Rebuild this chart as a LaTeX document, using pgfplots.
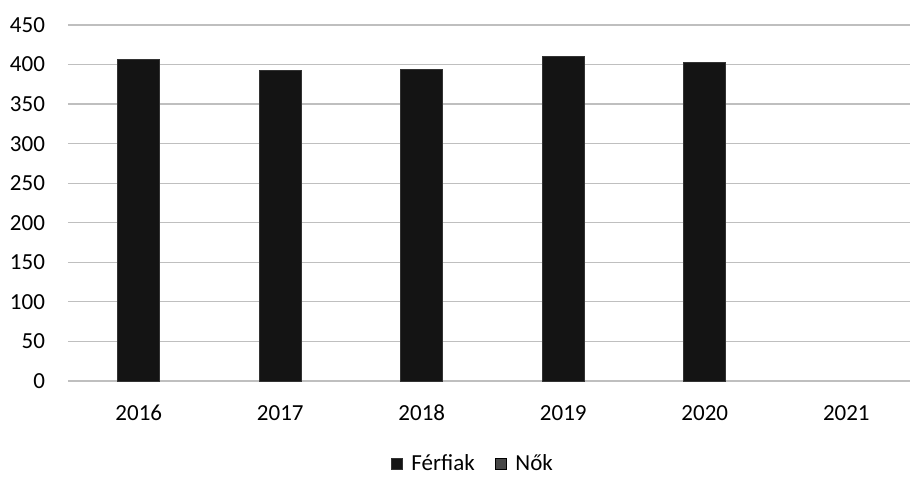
\documentclass[border=0pt]{standalone}
\usepackage{pgfplots}
\pgfplotsset{compat=1.18}
\usepackage{fontspec}
\setmainfont{Carlito}
\begin{document}
\begin{tikzpicture}[font=\fontsize{11.5}{13}\selectfont]
\begin{axis}[
  at={(0,0)}, anchor=south west,
  scale only axis,
  width=421pt, height=178pt,
  xmin=-0.5, xmax=5.45,
  ymin=0, ymax=450,
  ytick={0,50,...,450},
  xtick={0,1,2,3,4,5},
  xticklabels={2016,2017,2018,2019,2020,2021},
  axis line style={draw=none},
  major tick length=0pt,
  ymajorgrids,
  grid style={gray!50, line width=0.6pt},
  /pgf/number format/assume math mode=true,
  xticklabel style={anchor=center, yshift=-16pt},
  yticklabel style={anchor=east, xshift=-8pt},
  clip=false,
  legend style={at={(0.482,-0.233)}, anchor=center, draw=none, fill=none,
    legend columns=2, column sep=2.5pt, inner sep=0pt,
    /tikz/every even column/.append style={column sep=8pt}},
  legend image code/.code={\fill[#1] (0pt,-2.7pt) rectangle (5.4pt,2.7pt);},
]
\addplot[ybar, bar width=21pt, fill=black!92, draw=black!80, bar shift=0pt]
  coordinates {(0,407) (1,392) (2,394) (3,410) (4,403)};
\addlegendentry{Férfiak}
\addlegendimage{fill=black!72}
\addlegendentry{Nők}
\end{axis}
\path[use as bounding box] (-34pt,-48pt) rectangle (422pt,190.5pt);
\end{tikzpicture}
\end{document}
